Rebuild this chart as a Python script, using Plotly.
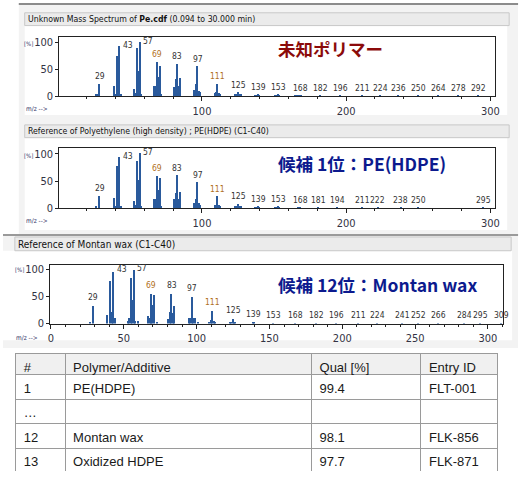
import plotly.graph_objects as go

W, H = 527, 478

# --- spectrum data (m/z, relative intensity %) ---
mz_unknown = [27, 28, 29, 39, 40, 41, 42, 43, 44, 53, 54, 55, 56, 57, 58, 67, 68, 69, 70, 71, 72,
              81, 82, 83, 84, 85, 95, 96, 97, 98, 99, 109, 110, 111, 112, 113, 123, 124, 125, 126, 127,
              137, 138, 139, 140, 151, 152, 153, 154, 165, 166, 167, 168, 169,
              182, 196, 211, 224, 236, 250, 264, 278, 292]
int_unknown = [3, 2, 23, 18, 3, 74, 25, 92, 3, 13, 5, 89, 47, 100, 4, 18, 18, 63, 36, 55, 3,
               17, 32, 60, 18, 34, 11, 23, 55, 10, 8, 6, 7, 23, 5, 4, 3, 4, 7, 4, 3,
               1.5, 1.5, 3, 1, 1, 1, 2, 1, 0.8, 0.8, 1, 1.5, 0.8,
               1, 0.8, 0.6, 0.5, 0.4, 0.4, 0.3, 0.3, 0.3]
lab_unknown = [29, 43, 57, 69, 83, 97, 111, 125, 139, 153, 168, 182, 196, 211, 224, 236, 250, 264, 278, 292]

mz_hdpe = [27, 29, 39, 40, 41, 42, 43, 44, 53, 54, 55, 56, 57, 58, 67, 68, 69, 70, 71, 72,
           81, 82, 83, 84, 85, 95, 96, 97, 98, 99, 109, 110, 111, 112, 113, 123, 124, 125, 126, 127,
           137, 138, 139, 140, 151, 152, 153, 154, 167, 168,
           181, 194, 211, 222, 238, 250, 295]
int_hdpe = [3, 22, 18, 2, 76, 27, 93, 3, 13, 5, 86, 51, 100, 4, 17, 17, 59, 33, 54, 3,
            16, 28, 60, 17, 30, 10, 17, 47, 9, 6, 5, 6, 21, 5, 3, 3, 4, 8, 3, 2,
            1.5, 1.5, 3, 1, 1, 1, 2.5, 1, 1, 1.5,
            1, 0.8, 0.6, 0.5, 0.4, 0.4, 0.3]
lab_hdpe = [29, 43, 57, 69, 83, 97, 111, 125, 139, 153, 168, 181, 194, 211, 222, 238, 250, 295]

mz_montan = [27, 29, 39, 41, 42, 43, 44, 53, 54, 55, 56, 57, 58, 60, 67, 68, 69, 70, 71, 73,
             81, 82, 83, 84, 85, 95, 96, 97, 98, 99, 101, 109, 110, 111, 112, 113,
             123, 124, 125, 126, 127, 139, 140, 153, 168,
             182, 196, 211, 224, 241, 252, 266, 284, 295, 309]
int_montan = [3, 34, 16, 79, 23, 97, 12, 5, 12, 85, 44, 100, 5, 5, 14, 12, 56, 36, 53, 4,
              10, 23, 56, 21, 34, 12, 11, 51, 12, 12, 3, 4, 7, 25, 6, 4,
              3, 3, 10, 4, 2, 3, 2, 1.5, 1,
              0.8, 0.8, 0.6, 0.5, 0.4, 0.4, 0.3, 0.3, 0.3, 0.3]
lab_montan = [29, 43, 57, 69, 83, 97, 111, 125, 139, 153, 168, 182, 196, 211, 224, 241, 252, 266, 284, 295, 309]

titles = ["Unknown Mass Spectrum of <b>Pe.cdf</b> (0.094 to 30.000 min)",
          "Reference of Polyethylene (high density) ; PE(HDPE) (C1-C40)",
          "Reference of Montan wax (C1-C40)"]
callouts = ["未知ポリマー", "候補 1位：PE(HDPE)", "候補 12位：Montan wax"]

# --- hit list table ---
tbl_header = ["#", "Polymer/Additive", "Qual [%]", "Entry ID"]
tbl_rank = ["1", "…", "12", "13"]
tbl_name = ["PE(HDPE)", "", "Montan wax", "Oxidized HDPE"]
tbl_qual = ["99.4", "", "98.1", "97.7"]
tbl_id = ["FLT-001", "", "FLK-856", "FLK-871"]

NARROW = "DejaVu Sans Condensed, Liberation Sans Narrow, sans-serif"
CJK = "Noto Sans CJK JP, sans-serif"
BAR = "#2a5a9c"


def px_x(v):
    return v / W


def px_y(v):
    return 1 - v / H


fig = go.Figure()

# panel geometry in pixels: plot box left/right/top/bottom, x range, tick step, minor step
panels = [
    dict(mz=mz_unknown, inten=int_unknown, labels=lab_unknown, box=(57, 499, 37, 97),
         xr=[1, 303.5], dtick=100, minor=20, title_y=18.5, title_x=23, bar=(22, 513, 12, 25),
         pct=(19, 43), mzlab=(21, 110), callout_y=48, callout_color="#8b0a0a", tsize=8.7),
    dict(mz=mz_hdpe, inten=int_hdpe, labels=lab_hdpe, box=(57, 499, 150, 211),
         xr=[1, 303.5], dtick=100, minor=20, title_y=132.5, title_x=23, bar=(22, 513, 126, 139),
         pct=(19, 157), mzlab=(21, 224), callout_y=165, callout_color="#0c1a8e", tsize=8.7),
    dict(mz=mz_montan, inten=int_montan, labels=lab_montan, box=(48, 507, 268, 328),
         xr=[-0.4, 310.5], dtick=50, minor=10, title_y=248, title_x=13, bar=(12, 515, 240, 254),
         pct=(10, 273), mzlab=(11, 343), callout_y=288, callout_color="#0c1a8e", tsize=10),
]

shapes = [
    # window backgrounds and separators
    dict(type="rect", xref="paper", yref="paper", x0=px_x(16), x1=px_x(522), y0=px_y(238), y1=px_y(3),
         fillcolor="#f3f3f3", line=dict(width=0), layer="below"),
    dict(type="line", xref="paper", yref="paper", x0=px_x(16), x1=px_x(522), y0=px_y(3), y1=px_y(3),
         line=dict(color="#8c8c8c", width=2), layer="below"),
    dict(type="rect", xref="paper", yref="paper", x0=px_x(22), x1=px_x(511), y0=px_y(116), y1=px_y(25),
         fillcolor="white", line=dict(width=0), layer="below"),
    dict(type="rect", xref="paper", yref="paper", x0=px_x(22), x1=px_x(511), y0=px_y(233), y1=px_y(139),
         fillcolor="white", line=dict(width=0), layer="below"),
    dict(type="rect", xref="paper", yref="paper", x0=0, x1=px_x(522), y0=px_y(353), y1=px_y(238),
         fillcolor="#f3f3f3", line=dict(width=0), layer="below"),
    dict(type="line", xref="paper", yref="paper", x0=0, x1=px_x(522), y0=px_y(238), y1=px_y(238),
         line=dict(color="#9a9a9a", width=2), layer="below"),
    dict(type="rect", xref="paper", yref="paper", x0=0, x1=px_x(516), y0=px_y(345), y1=px_y(254),
         fillcolor="white", line=dict(width=0), layer="below"),
]
annotations = []

for i, p in enumerate(panels):
    n = "" if i == 0 else str(i + 1)
    xa, ya = "x" + n, "y" + n
    left, right, top, bottom = p["box"]

    fig.add_trace(go.Bar(x=p["mz"], y=p["inten"], width=0.85, marker=dict(color=BAR, line=dict(width=0)),
                         xaxis=xa, yaxis=ya, hoverinfo="skip"))

    axis_common = dict(showline=True, mirror=True, linecolor="#222", linewidth=1, showgrid=False,
                       zeroline=False, ticks="outside", ticklen=4, tickcolor="#222",
                       tickfont=dict(family=NARROW, size=11, color="#333344"))
    fig.layout["xaxis" + n] = dict(axis_common, domain=[px_x(left), px_x(right)], range=p["xr"],
                                   anchor=ya, tick0=0, dtick=p["dtick"],
                                   tickvals=None if i == 2 else [100, 200, 300],
                                   minor=dict(dtick=p["minor"], tick0=0, ticks="outside", ticklen=2,
                                              tickcolor="#222"))
    fig.layout["yaxis" + n] = dict(axis_common, domain=[px_y(bottom), px_y(top)], range=[0, 109.5],
                                   anchor=xa, tickvals=[0, 50, 100], ticklen=3)

    # peak labels
    lookup = dict(zip(p["mz"], p["inten"]))
    for m in p["labels"]:
        v = lookup.get(m, 0)
        col = "#b06f1c" if m in (69, 111) else "#333333"
        if v > 85:
            annotations.append(dict(x=m, y=v, xref=xa, yref=ya, text=str(m), showarrow=False,
                                    xanchor="left", yanchor="middle", xshift=1, yshift=2,
                                    font=dict(family=NARROW, size=8.5, color=col)))
        else:
            annotations.append(dict(x=m, y=v, xref=xa, yref=ya, text=str(m), showarrow=False,
                                    xanchor="center", yanchor="bottom", yshift=1,
                                    font=dict(family=NARROW, size=8.5, color=col)))

    # title bar
    bx0, bx1, by0, by1 = p["bar"]
    shapes.append(dict(type="rect", xref="paper", yref="paper", x0=px_x(bx0), x1=px_x(bx1),
                       y0=px_y(by1), y1=px_y(by0), fillcolor="#ebebeb",
                       line=dict(color="#c8c8c8", width=1), layer="below"))
    annotations.append(dict(x=px_x(p["title_x"]), y=px_y(p["title_y"]), xref="paper", yref="paper",
                            text=titles[i], showarrow=False, xanchor="left", yanchor="middle",
                            font=dict(family=NARROW, size=p["tsize"], color="#111111")))
    annotations.append(dict(x=px_x(p["pct"][0]), y=px_y(p["pct"][1]), xref="paper", yref="paper",
                            text="[%]", showarrow=False, xanchor="left", yanchor="middle",
                            font=dict(family=NARROW, size=6, color="#333366")))
    annotations.append(dict(x=px_x(p["mzlab"][0]), y=px_y(p["mzlab"][1]), xref="paper", yref="paper",
                            text="m/z -->", showarrow=False, xanchor="left", yanchor="middle",
                            font=dict(family=NARROW, size=6.5, color="#333366")))
    annotations.append(dict(x=px_x(277), y=px_y(p["callout_y"]), xref="paper", yref="paper",
                            text="<b>" + callouts[i] + "</b>", showarrow=False,
                            xanchor="left", yanchor="middle",
                            font=dict(family=CJK, size=17.5, color=p["callout_color"])))

fig.add_trace(go.Table(
    domain=dict(x=[px_x(13), px_x(502)], y=[0, px_y(359)]),
    columnwidth=[50, 250, 111, 78],
    header=dict(values=tbl_header, fill_color="#f0f0f0", line=dict(color="#9a9a9a", width=1),
                align="left", height=21,
                font=dict(family="Liberation Sans, Arial, sans-serif", size=13, color="#1a1a1a")),
    cells=dict(values=[tbl_rank, tbl_name, tbl_qual, tbl_id], fill_color="white",
               line=dict(color="#9a9a9a", width=1), align="left", height=24.5,
               font=dict(family="Liberation Sans, Arial, sans-serif", size=13, color="#1a1a1a")),
))

fig.update_layout(width=W, height=H, margin=dict(l=0, r=0, t=0, b=0), paper_bgcolor="white",
                  plot_bgcolor="white", showlegend=False, bargap=0, shapes=shapes,
                  annotations=annotations, hovermode=False)

# drop the default 8px page margin so the figure sits at the window origin
fig.write_html("out.html", config={"displayModeBar": False},
               post_script="document.body.style.margin='0px';")
